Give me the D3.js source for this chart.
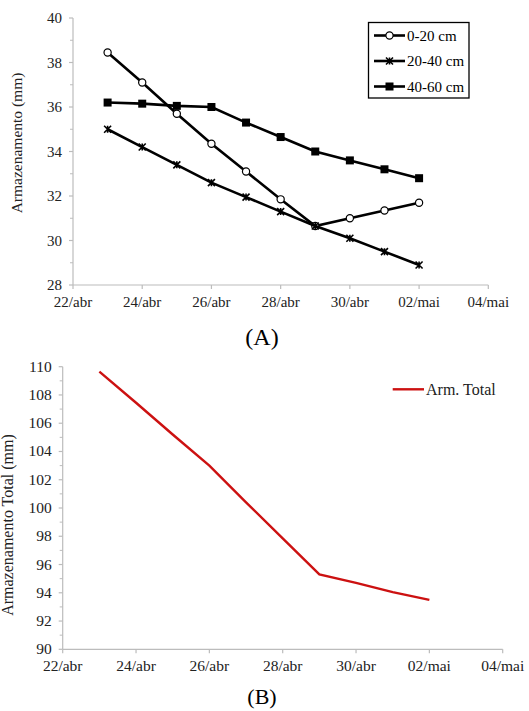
<!DOCTYPE html>
<html>
<head>
<meta charset="utf-8">
<script src="https://cdn.jsdelivr.net/npm/d3@7"></script>
<style>
  body { margin: 0; background: #fff; }
  svg { display: block; font-family: "Liberation Serif", "Times New Roman", serif; }
</style>
</head>
<body>
<script>
// dias de medição (abril/maio)
const dates = ["2015-04-23", "2015-04-24", "2015-04-25", "2015-04-26", "2015-04-27",
               "2015-04-28", "2015-04-29", "2015-04-30", "2015-05-01", "2015-05-02"];
const layer0_20 = [38.45, 37.1, 35.7, 34.35, 33.1, 31.85, 30.65, 31.0, 31.35, 31.7];
const layer20_40 = [35.0, 34.2, 33.4, 32.6, 31.95, 31.3, 30.65, 30.1, 29.5, 28.9];
const layer40_60 = [36.2, 36.15, 36.05, 36.0, 35.3, 34.65, 34.0, 33.6, 33.2, 32.8];
const armTotal = [109.65, 107.45, 105.2, 103.0, 100.4, 97.85, 95.3, 94.7, 94.05, 93.5];
const seriesNames = ["0-20 cm", "20-40 cm", "40-60 cm"];
const xTickDates = ["2015-04-22", "2015-04-24", "2015-04-26", "2015-04-28", "2015-04-30", "2015-05-02", "2015-05-04"];
const xTickLabels = ["22/abr", "24/abr", "26/abr", "28/abr", "30/abr", "02/mai", "04/mai"];
const yTicksA = [28, 30, 32, 34, 36, 38, 40];
const yTicksB = [90, 92, 94, 96, 98, 100, 102, 104, 106, 108, 110];

const parse = d3.timeParse("%Y-%m-%d");
const days = dates.map(parse);
const tickDays = xTickDates.map(parse);
const labelOf = d => xTickLabels[tickDays.findIndex(t => +t === +d)];

const svg = d3.select("body").append("svg")
    .attr("width", 529)
    .attr("height", 711);

const axisGray = "#bcbcbc";

function drawAxes(g, x, y, yTicks, yMinor, fs) {
    // eixo y com ticks menores
    g.append("line")
        .attr("x1", x.range()[0]).attr("x2", x.range()[0])
        .attr("y1", y.range()[0]).attr("y2", y.range()[1])
        .attr("stroke", axisGray).attr("stroke-width", 1.2);
    g.selectAll(".ymin").data(yMinor).enter().append("line")
        .attr("x1", x.range()[0] - 3).attr("x2", x.range()[0])
        .attr("y1", d => y(d)).attr("y2", d => y(d))
        .attr("stroke", axisGray).attr("stroke-width", 1);
    g.selectAll(".ymaj").data(yTicks).enter().append("line")
        .attr("x1", x.range()[0] - 4).attr("x2", x.range()[0])
        .attr("y1", d => y(d)).attr("y2", d => y(d))
        .attr("stroke", axisGray).attr("stroke-width", 1.2);
    g.selectAll(".ylab").data(yTicks).enter().append("text")
        .attr("x", x.range()[0] - 11)
        .attr("y", d => y(d) + 5)
        .attr("text-anchor", "end")
        .attr("font-size", fs)
        .attr("fill", "#222")
        .text(d => d);
    // eixo x
    g.append("line")
        .attr("x1", x.range()[0]).attr("x2", x.range()[1])
        .attr("y1", y.range()[0]).attr("y2", y.range()[0])
        .attr("stroke", axisGray).attr("stroke-width", 1.2);
    g.selectAll(".xt").data(tickDays).enter().append("line")
        .attr("x1", d => x(d)).attr("x2", d => x(d))
        .attr("y1", y.range()[0]).attr("y2", y.range()[0] + 4)
        .attr("stroke", axisGray).attr("stroke-width", 1.2);
    g.selectAll(".xlab").data(tickDays).enter().append("text")
        .attr("x", d => x(d))
        .attr("y", y.range()[0] + 22)
        .attr("text-anchor", "middle")
        .attr("font-size", fs)
        .attr("fill", "#222")
        .text(labelOf);
}

// ---------- (A) ----------
const xA = d3.scaleTime().domain([tickDays[0], tickDays[tickDays.length - 1]]).range([73, 488.3]);
const yA = d3.scaleLinear().domain([28, 40]).range([285, 18]);
const gA = svg.append("g");
drawAxes(gA, xA, yA, yTicksA, d3.range(29, 40, 2), 15);

gA.append("text")
    .attr("transform", "translate(22,143) rotate(-90)")
    .attr("text-anchor", "middle")
    .attr("font-size", 15.5)
    .attr("fill", "#222")
    .text("Armazenamento (mm)");

const lineA = d3.line().x((d, i) => xA(days[i])).y(d => yA(d));
const seriesA = [layer0_20, layer20_40, layer40_60];

function marker(sel, type, cx, cy) {
    if (type === 0) {
        sel.append("circle").attr("cx", cx).attr("cy", cy).attr("r", 3.6)
            .attr("fill", "#fff").attr("stroke", "#000").attr("stroke-width", 1.2);
    } else if (type === 1) {
        const s = 3.5;
        sel.append("path")
            .attr("d", `M${cx - s},${cy - s}L${cx + s},${cy + s}M${cx - s},${cy + s}L${cx + s},${cy - s}M${cx},${cy - s}L${cx},${cy + s}`)
            .attr("stroke", "#000").attr("stroke-width", 1.6).attr("fill", "none");
    } else {
        sel.append("rect").attr("x", cx - 4).attr("y", cy - 4).attr("width", 8).attr("height", 8)
            .attr("fill", "#000");
    }
}

seriesA.forEach((vals, k) => {
    gA.append("path")
        .attr("d", lineA(vals))
        .attr("fill", "none")
        .attr("stroke", "#000")
        .attr("stroke-width", 2.6);
    vals.forEach((v, i) => marker(gA, k, xA(days[i]), yA(v)));
});

// legenda (A)
const legA = gA.append("g");
legA.append("rect")
    .attr("x", 368.5).attr("y", 22.5).attr("width", 100.5).attr("height", 75.5)
    .attr("fill", "#fff").attr("stroke", "#000").attr("stroke-width", 1.3);
seriesNames.forEach((name, k) => {
    const ly = 35.5 + k * 25.5;
    legA.append("line")
        .attr("x1", 374).attr("x2", 405).attr("y1", ly).attr("y2", ly)
        .attr("stroke", "#000").attr("stroke-width", 2.6);
    marker(legA, k, 389.5, ly);
    legA.append("text")
        .attr("x", 407).attr("y", ly + 5)
        .attr("font-size", 15)
        .attr("fill", "#000")
        .text(name);
});

svg.append("text")
    .attr("x", 262).attr("y", 345)
    .attr("text-anchor", "middle")
    .attr("font-size", 24)
    .attr("fill", "#000")
    .text("(A)");

// ---------- (B) ----------
const xB = d3.scaleTime().domain([tickDays[0], tickDays[tickDays.length - 1]]).range([62.7, 502.7]);
const yB = d3.scaleLinear().domain([90, 110]).range([649.3, 366.7]);
const gB = svg.append("g");
drawAxes(gB, xB, yB, yTicksB, d3.range(91, 110, 2), 15.5);

gB.append("text")
    .attr("transform", "translate(13,525) rotate(-90)")
    .attr("text-anchor", "middle")
    .attr("font-size", 16)
    .attr("fill", "#222")
    .text("Armazenamento Total (mm)");

gB.append("path")
    .attr("d", d3.line().x((d, i) => xB(days[i])).y(d => yB(d))(armTotal))
    .attr("fill", "none")
    .attr("stroke", "#cc1111")
    .attr("stroke-width", 2.4);

gB.append("line")
    .attr("x1", 392.7).attr("x2", 424).attr("y1", 389.3).attr("y2", 389.3)
    .attr("stroke", "#cc1111").attr("stroke-width", 2.4);
gB.append("text")
    .attr("x", 426).attr("y", 394.5)
    .attr("font-size", 16)
    .attr("fill", "#222")
    .text("Arm. Total");

svg.append("text")
    .attr("x", 262).attr("y", 704)
    .attr("text-anchor", "middle")
    .attr("font-size", 22)
    .attr("fill", "#000")
    .text("(B)");
</script>
</body>
</html>
